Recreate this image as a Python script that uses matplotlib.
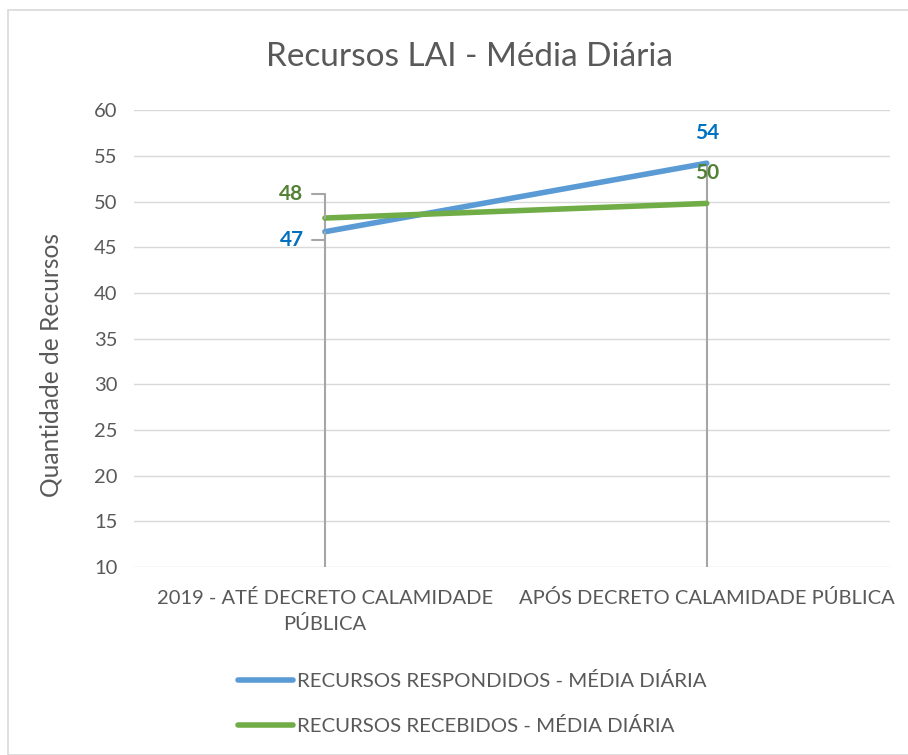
import matplotlib
matplotlib.use("Agg")
import matplotlib.pyplot as plt
from matplotlib.patches import Rectangle

# dados do gráfico
categorias = ["2019 - ATÉ DECRETO CALAMIDADE\nPÚBLICA", "APÓS DECRETO CALAMIDADE PÚBLICA"]
respondidos = [46.7, 54.2]
recebidos = [48.2, 49.8]
rot_respondidos = ["47", "54"]
rot_recebidos = ["48", "50"]

AZUL = "#5b9bd5"
VERDE = "#70ad47"
CINZA = "#595959"

plt.rcParams["font.family"] = ["Lato", "DejaVu Sans"]

fig = plt.figure(figsize=(9.08, 7.55), dpi=100)
ax = fig.add_axes([134 / 908, 0.249, 756 / 908, 0.605])

x = [0, 1]
ax.set_xlim(-0.5, 1.48)
ax.set_ylim(10, 60)
ax.set_yticks(range(10, 61, 5))
ax.grid(axis="y", color="#d9d9d9", lw=1)
ax.set_axisbelow(True)
for s in ax.spines.values():
    s.set_visible(False)

# linhas de queda
topo = [max(a, b) for a, b in zip(respondidos, recebidos)]
ax.vlines(x, 10, topo, color="#a6a6a6", lw=1.5, zorder=1)

l1, = ax.plot(x, respondidos, color=AZUL, lw=4, solid_capstyle="round", zorder=3,
              label="RECURSOS RESPONDIDOS - MÉDIA DIÁRIA")
l2, = ax.plot(x, recebidos, color=VERDE, lw=4, solid_capstyle="round", zorder=3,
              label="RECURSOS RECEBIDOS - MÉDIA DIÁRIA")

# rótulos
lider = dict(arrowstyle="-", color="#a6a6a6", lw=1.5,
             connectionstyle="angle,angleA=0,angleB=90,rad=0",
             shrinkA=4, shrinkB=0, relpos=(1, 0.5))
ax.annotate(rot_recebidos[0], (x[0], recebidos[0]), xytext=(-24, 17),
            textcoords="offset points", ha="center", va="center", fontsize=15,
            fontweight="bold", color="#538135", arrowprops=lider)
ax.annotate(rot_respondidos[0], (x[0], respondidos[0]), xytext=(-24, -6),
            textcoords="offset points", ha="center", va="center", fontsize=15,
            fontweight="bold", color="#0070c0", arrowprops=lider)
ax.annotate(rot_respondidos[1], (x[1], respondidos[1]), xytext=(0, 22),
            textcoords="offset points", ha="center", va="center", fontsize=15,
            fontweight="bold", color="#0070c0")
ax.annotate(rot_recebidos[1], (x[1], recebidos[1]), xytext=(0, 22),
            textcoords="offset points", ha="center", va="center", fontsize=15,
            fontweight="bold", color="#538135")

ax.set_xticks(x)
ax.set_xticklabels(categorias, fontsize=14.5, color=CINZA, linespacing=1.5)
ax.tick_params(axis="both", length=0, labelcolor=CINZA)
ax.tick_params(axis="y", pad=12, labelsize=14.5)
ax.tick_params(axis="x", pad=16)
ax.set_ylabel("Quantidade de Recursos", fontsize=17.7, color=CINZA)
ax.yaxis.set_label_coords(-0.095, 0.443)

fig.text(0.517, 0.925, "Recursos LAI - Média Diária", ha="center", va="center",
         fontsize=24, color=CINZA)

fig.legend(handles=[l1, l2], loc="center", bbox_to_anchor=(0.52, 0.068), frameon=False,
           fontsize=14.7, labelcolor=CINZA, handlelength=2.7, handletextpad=0.2,
           labelspacing=1.3)

fig.patches.append(Rectangle((8 / 908, 0), 1, 1 - 10 / 755, transform=fig.transFigure,
                             fill=False, edgecolor="#d9d9d9", lw=1.2))

fig.savefig("out.png", dpi=100)
